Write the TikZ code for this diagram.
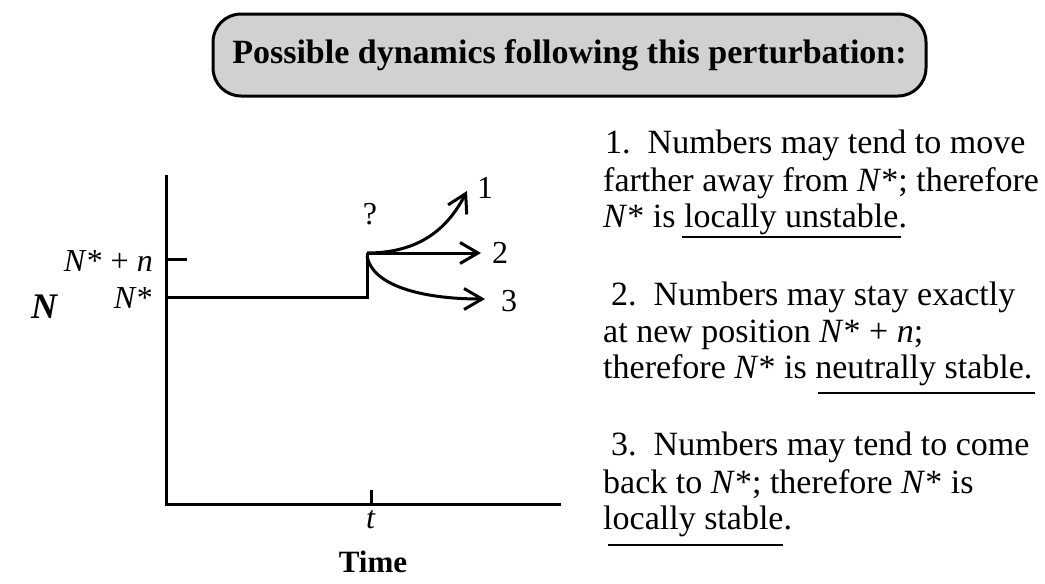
\documentclass[tikz,border=0pt]{standalone}
\usepackage{fontspec}
\setmainfont{Liberation Serif}
\usetikzlibrary{arrows.meta}
\begin{document}
\begin{tikzpicture}[x=1pt,y=-1pt,
  axis/.style={line width=3pt},
  curve/.style={line width=3pt,-{Straight Barb[length=18pt,width=21pt,line width=3pt]}},
  body/.style={anchor=base west,inner sep=0pt,font=\fontsize{34}{38}\selectfont},
  lab/.style={inner sep=0pt,font=\fontsize{32}{36}\selectfont},
  uline/.style={line width=2.2pt}]
\useasboundingbox (0,0) rectangle (1045,584);
% title
\node[draw,line width=3pt,fill=black!18,rounded corners=28pt,minimum width=713pt,minimum height=82pt,inner sep=0pt,
  font=\fontsize{34}{38}\selectfont\bfseries] (title) at (569.5,55) {Possible dynamics following this perturbation:};
% axes
\coordinate (o) at (166,504);
\coordinate (ytop) at (166,175);
\coordinate (xend) at (561,504);
\draw[axis] (ytop) -- (o) -- (xend);
\coordinate (tt) at (371,504);
\coordinate (ttop) at (371,490);
\draw[axis] (tt) -- (ttop);
\coordinate (ny) at (166,259);
\coordinate (nyr) at (187,259);
\draw[axis] (ny) -- (nyr);
% labels
\node[lab,anchor=base east] (lnn) at (153,271) {\textit{N}* + \textit{n}};
\node[lab,anchor=base east] (lns) at (153,308) {\textit{N}*};
\node[lab,anchor=base west,font=\fontsize{36}{38}\selectfont] (lN) at (31,318) {\textbf{\textit{N}}};
\node[lab,anchor=base] (lt) at (371,528) {\textit{t}};
\node[lab,anchor=base,font=\fontsize{31}{36}\selectfont] (ltime) at (373,572) {\textbf{Time}};
% trajectory
\coordinate (a) at (166,297);
\coordinate (b) at (367,297);
\coordinate (c) at (367,253);
\draw[axis,line join=miter] (a) -- (b) -- (c);
\coordinate (e2) at (481,253);
\coordinate (e1) at (467,191);
\coordinate (e3) at (485,299);
\draw[curve] (c) -- (e2);
\draw[curve] (c) .. controls (420,253) and (448,228) .. (e1);
\draw[curve] (367,256) .. controls (372,285) and (420,299) .. (e3);
\node[lab,anchor=base west] (n1) at (477,198) {1};
\node[lab,anchor=base west] (n2) at (492,263) {2};
\node[lab,anchor=base west] (n3) at (501,311) {3};
\node[lab,anchor=base] (q) at (370,224) {?};
% right text
\node[body] (r11) at (605,153) {1.\ \ Numbers may tend to move};
\node[body] (r12) at (603,191) {farther away from \textit{N}*; therefore};
\node[body] (r13) at (603,227) {\textit{N}* is locally unstable.};
\draw[uline] (682,237) -- (901,237);
\node[body] (r21) at (611,305) {2.\ \ Numbers may stay exactly};
\node[body] (r22) at (603,342) {at new position \textit{N}* + \textit{n};};
\node[body] (r23) at (603,378) {therefore \textit{N}* is neutrally stable.};
\draw[uline] (818,393) -- (1035,393);
\node[body] (r31) at (611,455) {3.\ \ Numbers may tend to come};
\node[body] (r32) at (603,493) {back to \textit{N}*; therefore \textit{N}* is};
\node[body] (r33) at (603,529) {locally stable.};
\draw[uline] (608,545) -- (783,545);
\end{tikzpicture}
\end{document}
